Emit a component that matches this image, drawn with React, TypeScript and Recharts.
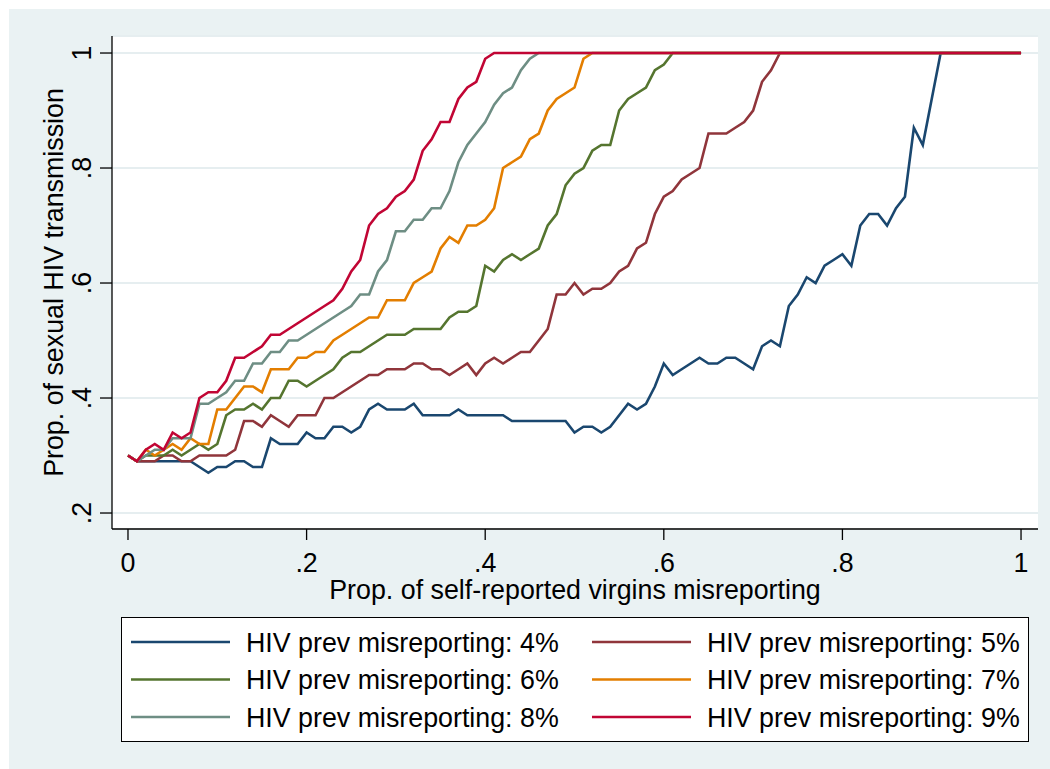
import React from 'react';
import { LineChart, Line, XAxis, YAxis, CartesianGrid, Legend } from 'recharts';

const FONT = '"Liberation Sans", Arial, Helvetica, sans-serif';

// x categories: proportion of self-reported virgins misreporting (0 .. 1, step .01)
const xValues: number[] = Array.from({ length: 101 }, (_, i) => i / 100);

const prev4 = [
  0.30, 0.29, 0.29, 0.29, 0.29, 0.29, 0.29, 0.29, 0.28, 0.27,
  0.28, 0.28, 0.29, 0.29, 0.28, 0.28, 0.33, 0.32, 0.32, 0.32,
  0.34, 0.33, 0.33, 0.35, 0.35, 0.34, 0.35, 0.38, 0.39, 0.38,
  0.38, 0.38, 0.39, 0.37, 0.37, 0.37, 0.37, 0.38, 0.37, 0.37,
  0.37, 0.37, 0.37, 0.36, 0.36, 0.36, 0.36, 0.36, 0.36, 0.36,
  0.34, 0.35, 0.35, 0.34, 0.35, 0.37, 0.39, 0.38, 0.39, 0.42,
  0.46, 0.44, 0.45, 0.46, 0.47, 0.46, 0.46, 0.47, 0.47, 0.46,
  0.45, 0.49, 0.50, 0.49, 0.56, 0.58, 0.61, 0.60, 0.63, 0.64,
  0.65, 0.63, 0.70, 0.72, 0.72, 0.70, 0.73, 0.75, 0.87, 0.84,
  0.92, 1, 1, 1, 1, 1, 1, 1, 1, 1, 1,
];

const prev5 = [
  0.30, 0.29, 0.29, 0.29, 0.30, 0.30, 0.29, 0.29, 0.30, 0.30,
  0.30, 0.30, 0.31, 0.36, 0.36, 0.35, 0.37, 0.36, 0.35, 0.37,
  0.37, 0.37, 0.40, 0.40, 0.41, 0.42, 0.43, 0.44, 0.44, 0.45,
  0.45, 0.45, 0.46, 0.46, 0.45, 0.45, 0.44, 0.45, 0.46, 0.44,
  0.46, 0.47, 0.46, 0.47, 0.48, 0.48, 0.50, 0.52, 0.58, 0.58,
  0.60, 0.58, 0.59, 0.59, 0.60, 0.62, 0.63, 0.66, 0.67, 0.72,
  0.75, 0.76, 0.78, 0.79, 0.80, 0.86, 0.86, 0.86, 0.87, 0.88,
  0.90, 0.95, 0.97, 1, 1, 1, 1, 1, 1, 1,
  1, 1, 1, 1, 1, 1, 1, 1, 1, 1,
  1, 1, 1, 1, 1, 1, 1, 1, 1, 1, 1,
];

const prev6 = [
  0.30, 0.29, 0.30, 0.30, 0.30, 0.31, 0.30, 0.31, 0.32, 0.31,
  0.32, 0.37, 0.38, 0.38, 0.39, 0.38, 0.40, 0.40, 0.43, 0.43,
  0.42, 0.43, 0.44, 0.45, 0.47, 0.48, 0.48, 0.49, 0.50, 0.51,
  0.51, 0.51, 0.52, 0.52, 0.52, 0.52, 0.54, 0.55, 0.55, 0.56,
  0.63, 0.62, 0.64, 0.65, 0.64, 0.65, 0.66, 0.70, 0.72, 0.77,
  0.79, 0.80, 0.83, 0.84, 0.84, 0.90, 0.92, 0.93, 0.94, 0.97,
  0.98, 1, 1, 1, 1, 1, 1, 1, 1, 1,
  1, 1, 1, 1, 1, 1, 1, 1, 1, 1,
  1, 1, 1, 1, 1, 1, 1, 1, 1, 1,
  1, 1, 1, 1, 1, 1, 1, 1, 1, 1, 1,
];

const prev7 = [
  0.30, 0.29, 0.31, 0.30, 0.31, 0.32, 0.31, 0.33, 0.32, 0.32,
  0.38, 0.38, 0.40, 0.42, 0.42, 0.41, 0.45, 0.45, 0.45, 0.47,
  0.47, 0.48, 0.48, 0.50, 0.51, 0.52, 0.53, 0.54, 0.54, 0.57,
  0.57, 0.57, 0.60, 0.61, 0.62, 0.66, 0.68, 0.67, 0.70, 0.70,
  0.71, 0.73, 0.80, 0.81, 0.82, 0.85, 0.86, 0.90, 0.92, 0.93,
  0.94, 0.99, 1, 1, 1, 1, 1, 1, 1, 1,
  1, 1, 1, 1, 1, 1, 1, 1, 1, 1,
  1, 1, 1, 1, 1, 1, 1, 1, 1, 1,
  1, 1, 1, 1, 1, 1, 1, 1, 1, 1,
  1, 1, 1, 1, 1, 1, 1, 1, 1, 1, 1,
];

const prev8 = [
  0.30, 0.29, 0.30, 0.31, 0.31, 0.33, 0.33, 0.33, 0.39, 0.39,
  0.40, 0.41, 0.43, 0.43, 0.46, 0.46, 0.48, 0.48, 0.50, 0.50,
  0.51, 0.52, 0.53, 0.54, 0.55, 0.56, 0.58, 0.58, 0.62, 0.64,
  0.69, 0.69, 0.71, 0.71, 0.73, 0.73, 0.76, 0.81, 0.84, 0.86,
  0.88, 0.91, 0.93, 0.94, 0.97, 0.99, 1, 1, 1, 1,
  1, 1, 1, 1, 1, 1, 1, 1, 1, 1,
  1, 1, 1, 1, 1, 1, 1, 1, 1, 1,
  1, 1, 1, 1, 1, 1, 1, 1, 1, 1,
  1, 1, 1, 1, 1, 1, 1, 1, 1, 1,
  1, 1, 1, 1, 1, 1, 1, 1, 1, 1, 1,
];

const prev9 = [
  0.30, 0.29, 0.31, 0.32, 0.31, 0.34, 0.33, 0.34, 0.40, 0.41,
  0.41, 0.43, 0.47, 0.47, 0.48, 0.49, 0.51, 0.51, 0.52, 0.53,
  0.54, 0.55, 0.56, 0.57, 0.59, 0.62, 0.64, 0.70, 0.72, 0.73,
  0.75, 0.76, 0.78, 0.83, 0.85, 0.88, 0.88, 0.92, 0.94, 0.95,
  0.99, 1, 1, 1, 1, 1, 1, 1, 1, 1,
  1, 1, 1, 1, 1, 1, 1, 1, 1, 1,
  1, 1, 1, 1, 1, 1, 1, 1, 1, 1,
  1, 1, 1, 1, 1, 1, 1, 1, 1, 1,
  1, 1, 1, 1, 1, 1, 1, 1, 1, 1,
  1, 1, 1, 1, 1, 1, 1, 1, 1, 1, 1,
];

const seriesKeys = ['p4', 'p5', 'p6', 'p7', 'p8', 'p9'];
const seriesValues = [prev4, prev5, prev6, prev7, prev8, prev9];
const seriesNames = [
  'HIV prev misreporting: 4%',
  'HIV prev misreporting: 5%',
  'HIV prev misreporting: 6%',
  'HIV prev misreporting: 7%',
  'HIV prev misreporting: 8%',
  'HIV prev misreporting: 9%',
];
const seriesColors = ['#1A476F', '#90353B', '#55752F', '#E37E00', '#6E8E84', '#C10534'];

const xTicks = [0, 0.2, 0.4, 0.6, 0.8, 1];
const xTickLabels = ['0', '.2', '.4', '.6', '.8', '1'];
const yTicks = [0.2, 0.4, 0.6, 0.8, 1];
const yTickLabels = ['.2', '.4', '.6', '.8', '1'];

const xTitle = 'Prop. of self-reported virgins misreporting';
const yTitle = 'Prop. of sexual HIV transmission';

const data = xValues.map((x, i) => {
  const row: Record<string, number> = { x };
  seriesKeys.forEach((k, s) => {
    row[k] = seriesValues[s][i];
  });
  return row;
});

const FS = 26.8;

const XTick = (props: any) => {
  const { x, y, payload, index } = props;
  const label = xTickLabels[index] ?? String(payload.value);
  return (
    <text x={x} y={y + 32} textAnchor="middle" fontSize={FS} fontFamily={FONT} fill="#000">
      {label}
    </text>
  );
};

const YTick = (props: any) => {
  const { x, y, payload, index } = props;
  const label = yTickLabels[index] ?? String(payload.value);
  return (
    <text
      x={x}
      y={y}
      transform={`rotate(-90 ${x} ${y})`}
      textAnchor="middle"
      fontSize={FS}
      fontFamily={FONT}
      fill="#000"
    >
      {label}
    </text>
  );
};

const XTitle = (props: any) => {
  const vb = props.viewBox || { x: 0, y: 0, width: 0, height: 0 };
  const cx = vb.x + vb.width / 2;
  return (
    <text x={cx} y={vb.y + 70} textAnchor="middle" fontSize={FS} fontFamily={FONT} fill="#000">
      {xTitle}
    </text>
  );
};

const YTitle = (props: any) => {
  const vb = props.viewBox || { x: 0, y: 0, width: 0, height: 0 };
  const cy = vb.y + vb.height / 2;
  const bx = 54;
  return (
    <text
      x={bx}
      y={cy}
      transform={`rotate(-90 ${bx} ${cy})`}
      textAnchor="middle"
      fontSize={FS}
      fontFamily={FONT}
      fill="#000"
    >
      {yTitle}
    </text>
  );
};

const LegendBox = () => (
  <svg width={908} height={125} style={{ display: 'block' }}>
    <rect x={0.5} y={0.5} width={907} height={124} fill="#fff" stroke="#000" strokeWidth={1} />
    {seriesNames.map((name, i) => {
      const col = i % 2;
      const row = Math.floor(i / 2);
      const lx = col === 0 ? 10 : 471;
      const ly = 25 + row * 37.5;
      return (
        <g key={name}>
          <line x1={lx} x2={lx + 99} y1={ly} y2={ly} stroke={seriesColors[i]} strokeWidth={2.6} />
          <text x={lx + 115} y={ly + 9.5} fontSize={FS} fontFamily={FONT} fill="#000">
            {name}
          </text>
        </g>
      );
    })}
  </svg>
);

export default function App() {
  return (
    <>
      <style>{`body{margin:0;}`}</style>
      <div
        style={{
          position: 'absolute',
          left: 9,
          top: 9,
          width: 1041,
          height: 760,
          background: '#EAF2F3',
        }}
      >
        <LineChart
          width={1041}
          height={760}
          data={data}
          margin={{ top: 27, right: 12, left: 0, bottom: 160 }}
        >
          <CartesianGrid
            horizontal={true}
            vertical={false}
            stroke="#E6EEF0"
            strokeWidth={2}
            fill="#ffffff"
            fillOpacity={1}
          />
          <XAxis
            dataKey="x"
            type="number"
            domain={[-0.0179, 1.019]}
            allowDataOverflow
            ticks={xTicks}
            interval={0}
            height={80}
            tickSize={11}
            tickMargin={0}
            tick={<XTick />}
            axisLine={{ stroke: '#000', strokeWidth: 1.3 }}
            tickLine={{ stroke: '#000', strokeWidth: 1.3 }}
            label={<XTitle />}
          />
          <YAxis
            type="number"
            domain={[0.1722, 1.0296]}
            allowDataOverflow
            ticks={yTicks}
            interval={0}
            width={103}
            tickSize={12}
            tickMargin={9}
            tick={<YTick />}
            axisLine={{ stroke: '#000', strokeWidth: 1.3 }}
            tickLine={{ stroke: '#000', strokeWidth: 1.3 }}
            label={<YTitle />}
          />
          {seriesKeys.map((k, i) => (
            <Line
              key={k}
              type="linear"
              dataKey={k}
              name={seriesNames[i]}
              stroke={seriesColors[i]}
              strokeWidth={2.6}
              dot={false}
              activeDot={false}
              isAnimationActive={false}
            />
          ))}
          <Legend
            layout="vertical"
            align="center"
            verticalAlign="middle"
            wrapperStyle={{ left: 112, top: 608, width: 908, height: 125 }}
            content={() => <LegendBox />}
          />
        </LineChart>
      </div>
    </>
  );
}
